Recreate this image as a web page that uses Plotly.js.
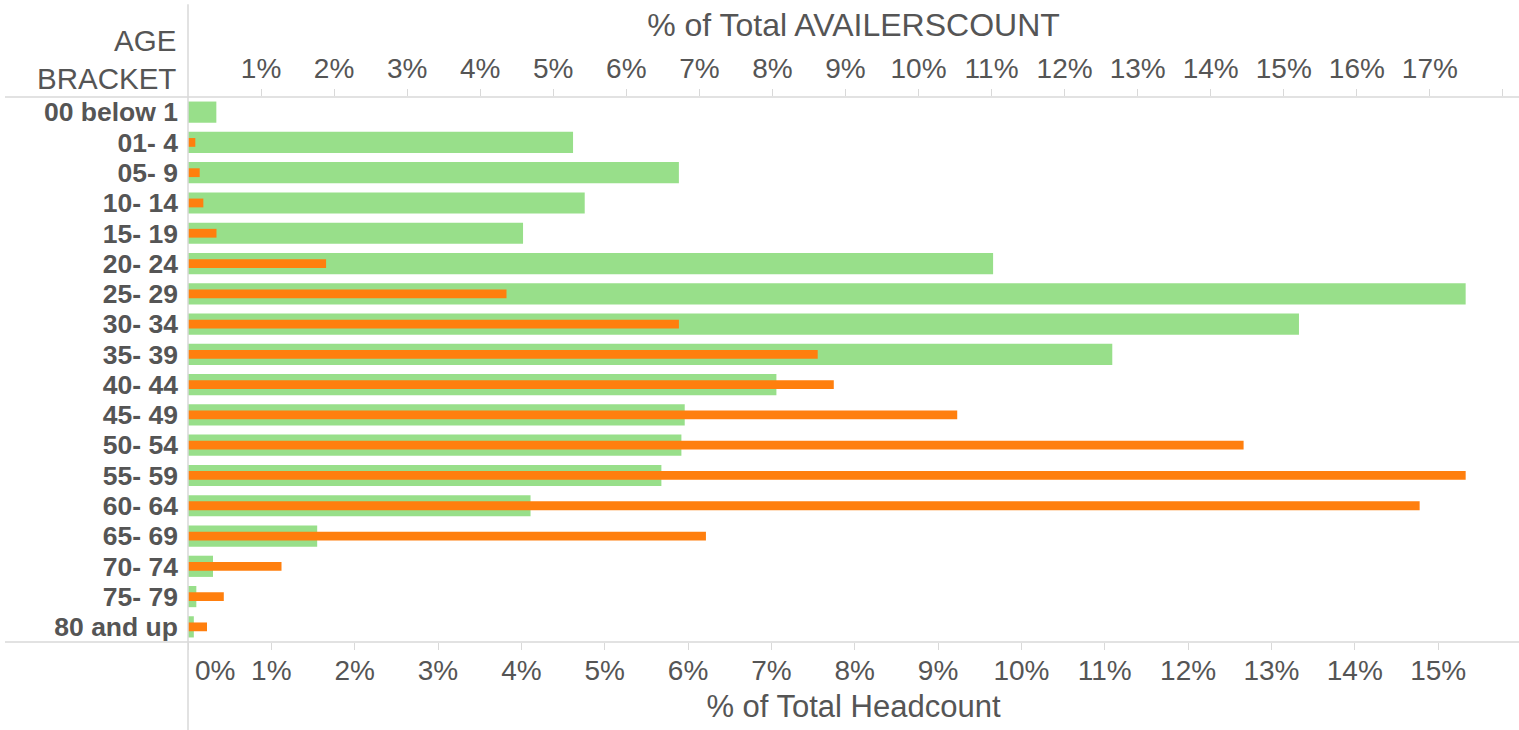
<!DOCTYPE html>
<html>
<head>
<meta charset="utf-8">
<script src="https://cdn.plot.ly/plotly-3.0.1.min.js"></script>
<style>html,body{margin:0;padding:0;background:#fff;}#chart{width:1519px;height:730px;}</style>
</head>
<body>
<div id="chart"></div>
<script>
const categories = ["00 below 1","01- 4","05- 9","10- 14","15- 19","20- 24","25- 29","30- 34","35- 39","40- 44","45- 49","50- 54","55- 59","60- 64","65- 69","70- 74","75- 79","80 and up"];
// % of Total Headcount (green, bottom axis)
const headcountPct = [0.34,4.62,5.89,4.76,4.02,9.66,15.33,13.33,11.09,7.06,5.96,5.92,5.68,4.11,1.55,0.30,0.10,0.07];
// % of Total AVAILERSCOUNT (orange, top axis)
const availersPct = [0.00,0.10,0.16,0.21,0.39,1.89,4.36,6.72,8.62,8.84,10.53,14.45,17.49,16.86,7.09,1.28,0.49,0.26];

const bottomTickVals = [0,1,2,3,4,5,6,7,8,9,10,11,12,13,14,15];
const bottomTickText = ["\u00a0\u00a0\u00a0\u00a0\u00a0\u00a0\u00a00%","1%","2%","3%","4%","5%","6%","7%","8%","9%","10%","11%","12%","13%","14%","15%"];
const topTickVals = [1,2,3,4,5,6,7,8,9,10,11,12,13,14,15,16,17,18];
const topTickText = ["1%","2%","3%","4%","5%","6%","7%","8%","9%","10%","11%","12%","13%","14%","15%","16%","17%",""];

const FONT = "Liberation Sans, Arial, sans-serif";
const TXT = "#555555";
const LINE = "#d9d9d9";

const traces = [
  {type:"bar", orientation:"h", y:categories, x:headcountPct, xaxis:"x", yaxis:"y",
   marker:{color:"#98df8a"}, width:0.70, hoverinfo:"skip", name:"% of Total Headcount"},
  {type:"bar", orientation:"h", y:categories, x:availersPct, xaxis:"x2", yaxis:"y",
   marker:{color:"#ff7f0e"}, width:0.29, hoverinfo:"skip", name:"% of Total AVAILERSCOUNT"}
];

const layout = {
  width:1519, height:730,
  margin:{l:188, r:0, t:97, b:88, pad:0},
  paper_bgcolor:"#ffffff", plot_bgcolor:"#ffffff",
  showlegend:false,
  font:{family:FONT, color:TXT},
  xaxis:{range:[0,15.97], tickvals:bottomTickVals, ticktext:bottomTickText,
    ticks:"outside", ticklen:7, tickcolor:LINE, tickwidth:1,
    showgrid:false, zeroline:false, showline:false,
    ticklabelstandoff:-4,
    tickfont:{family:FONT, size:28, color:TXT},
    title:{text:"% of Total Headcount", font:{family:FONT, size:31, color:TXT}, standoff:10}},
  xaxis2:{range:[0,18.22], overlaying:"x", side:"top", tickvals:topTickVals, ticktext:topTickText,
    ticks:"outside", ticklen:7, tickcolor:LINE, tickwidth:1,
    showgrid:false, zeroline:false, showline:false,
    tickfont:{family:FONT, size:28, color:TXT},
    title:{text:"% of Total AVAILERSCOUNT", font:{family:FONT, size:32, color:TXT}, standoff:6}},
  yaxis:{type:"category", categoryarray:categories, categoryorder:"array", range:[17.5,-0.5],
    tickmode:"array", tickvals:categories, ticktext:categories,
    showgrid:false, zeroline:false, showline:false, ticks:"",
    ticklabelstandoff:9,
    tickfont:{family:FONT, size:26.5, color:TXT, weight:"bold"}},
  shapes:[
    {type:"line", xref:"paper", yref:"paper", x0:-0.1375, x1:1, y0:1, y1:1, line:{color:LINE, width:1.5}},
    {type:"line", xref:"paper", yref:"paper", x0:-0.1375, x1:1, y0:0, y1:0, line:{color:LINE, width:1.5}},
    {type:"line", xref:"paper", yref:"paper", x0:0, x1:0, y0:-0.17, y1:1.17, line:{color:LINE, width:1.5}}
  ],
  annotations:[
    {xref:"paper", yref:"paper", x:-0.0075, y:1.0697, xanchor:"right", yanchor:"middle", align:"right",
     showarrow:false, text:"AGE<br>BRACKET", font:{family:FONT, size:29.5, color:TXT}}
  ]
};

Plotly.newPlot("chart", traces, layout, {staticPlot:true, displayModeBar:false});
</script>
</body>
</html>
